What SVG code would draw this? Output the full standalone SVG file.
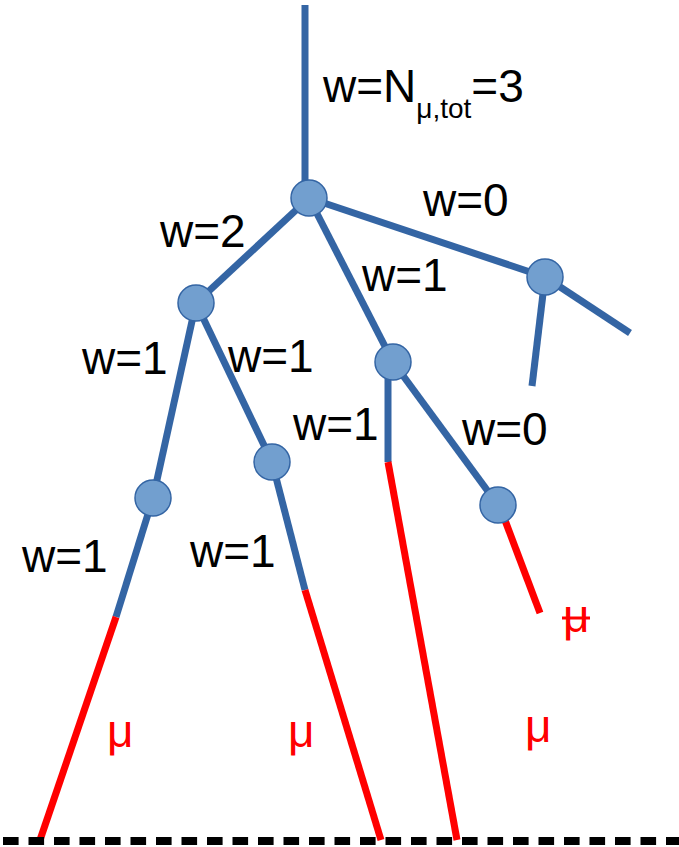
<svg xmlns="http://www.w3.org/2000/svg" width="679" height="847" viewBox="0 0 679 847">
<style>
.b{stroke:#3465a4;stroke-width:7;fill:none}
.r{stroke:#ff0000;stroke-width:7;fill:none}
.n{fill:#729fcf;stroke:#3465a4;stroke-width:1.5}
.t{font-family:"Liberation Sans",Arial,sans-serif;font-size:46px;fill:#000}
.m{font-family:"Liberation Sans",Arial,sans-serif;font-size:46px;fill:#ff0000}
</style>
<g id="connectors">
<line class="b" x1="305" y1="5" x2="305" y2="198"/>
<line class="b" x1="309" y1="198" x2="196" y2="303"/>
<line class="b" x1="309" y1="198" x2="545" y2="277"/>
<line class="b" x1="545" y1="277" x2="630" y2="333"/>
<line class="b" x1="545" y1="277" x2="532" y2="386"/>
<line class="b" x1="309" y1="198" x2="393" y2="362"/>
<line class="b" x1="388" y1="362" x2="388" y2="462"/>
<line class="r" x1="388" y1="462" x2="457" y2="840"/>
<line class="b" x1="393" y1="362" x2="498" y2="505"/>
<line class="r" x1="503" y1="515" x2="540" y2="613"/>
<line class="b" x1="196" y1="303" x2="153" y2="498"/>
<line class="b" x1="153" y1="498" x2="116" y2="617"/>
<line class="r" x1="116" y1="617" x2="40" y2="840"/>
<line class="b" x1="196" y1="303" x2="272" y2="462"/>
<line class="b" x1="272" y1="462" x2="305" y2="590"/>
<line class="r" x1="305" y1="590" x2="381" y2="840"/>
<line x1="3" y1="841" x2="679" y2="841" stroke="#000" stroke-width="8" stroke-dasharray="15.6 9.9"/>
</g>
<g id="nA"><circle class="n" cx="309" cy="198" r="18"/></g>
<g id="nB"><circle class="n" cx="196" cy="303" r="18"/></g>
<g id="nC"><circle class="n" cx="545" cy="277" r="18"/></g>
<g id="nD"><circle class="n" cx="393" cy="362" r="18"/></g>
<g id="nE"><circle class="n" cx="153" cy="498" r="18"/></g>
<g id="nF"><circle class="n" cx="272" cy="462" r="18"/></g>
<g id="nG"><circle class="n" cx="498" cy="505" r="18"/></g>
<g id="labels">
<text class="t" x="323" y="102">w=N<tspan font-size="28" dy="16">μ,tot</tspan><tspan dy="-16">=3</tspan></text>
<text class="t" x="423" y="216">w=0</text>
<text class="t" x="160" y="247">w=2</text>
<text class="t" x="362" y="291">w=1</text>
<text class="t" x="82" y="374">w=1</text>
<text class="t" x="228" y="372">w=1</text>
<text class="t" x="293" y="440">w=1</text>
<text class="t" x="462" y="445">w=0</text>
<text class="t" x="22" y="572">w=1</text>
<text class="t" x="190" y="567">w=1</text>
<text class="m" x="107" y="747">μ</text>
<text class="m" x="288" y="747">μ</text>
<text class="m" x="525" y="742">μ</text>
<text class="m" x="563" y="632">μ</text>
<line x1="562" y1="618" x2="590" y2="618" stroke="#ff0000" stroke-width="3"/>
</g>
</svg>
